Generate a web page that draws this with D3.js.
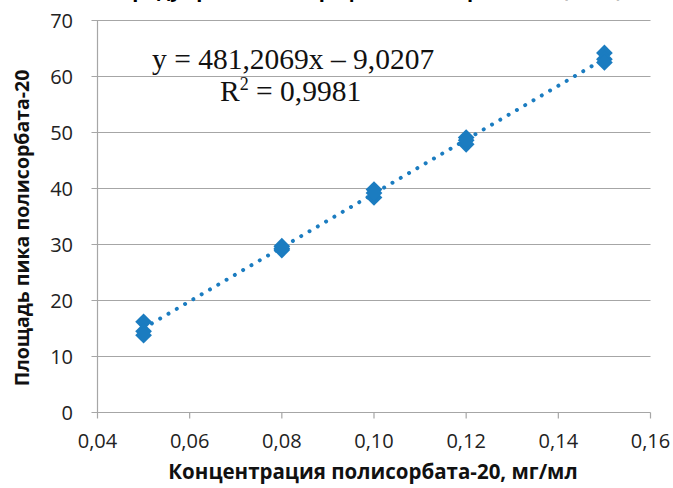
<!DOCTYPE html>
<html>
<head>
<meta charset="utf-8">
<script src="https://d3js.org/d3.v7.min.js"></script>
<style>
  body { margin: 0; background: #fff; }
  svg { display: block; }
</style>
</head>
<body>
<div id="chart"></div>
<script>
// concentration, mg/ml
var conc = [0.05, 0.05, 0.05, 0.08, 0.08, 0.08, 0.10, 0.10, 0.10, 0.12, 0.12, 0.12, 0.15, 0.15, 0.15];
// peak area
var area = [16.2, 14.5, 13.8, 29.7, 29.0, 29.3, 39.8, 38.4, 39.2, 49.1, 47.9, 48.6, 64.2, 63.1, 62.5];

var xTicks = [0.04, 0.06, 0.08, 0.10, 0.12, 0.14, 0.16];
var yTicks = [0, 10, 20, 30, 40, 50, 60, 70];

var slope = 481.2069, intercept = -9.0207;
var eqText = "y = 481,2069x – 9,0207";
var r2Text = "0,9981";
var title = "Градуировочный график полисорбата-20 (n=15)";
var xTitle = "Концентрация полисорбата-20, мг/мл";
var yTitle = "Площадь пика полисорбата-20";

var width = 673, height = 488;
var blue = "#1b7cc0", grid = "#a6a6a6";
var fmt = function (d) { return d3.format(".2f")(d).replace(".", ","); };

var x = d3.scaleLinear().domain([0.04, 0.16]).range([97.5, 650.5]);
var y = d3.scaleLinear().domain([0, 70]).range([412.5, 20.5]);

var svg = d3.select("#chart").append("svg")
    .attr("width", width)
    .attr("height", height);

// title, cut off by the top edge as in the source picture
svg.append("text")
    .attr("x", 372).attr("y", -3.5)
    .attr("text-anchor", "middle")
    .style("font-family", "Open Sans")
    .style("font-weight", "bold")
    .style("font-size", "20px")
    .text(title);

// horizontal grid
svg.append("g")
    .selectAll("line")
    .data(yTicks)
    .enter().append("line")
    .attr("x1", x(0.04) - 6).attr("x2", x(0.16))
    .attr("y1", function (d) { return y(d); })
    .attr("y2", function (d) { return y(d); })
    .attr("stroke", grid).attr("stroke-width", 1.2);

// y axis line
svg.append("line")
    .attr("x1", x(0.04)).attr("x2", x(0.04))
    .attr("y1", y(70)).attr("y2", y(0))
    .attr("stroke", grid).attr("stroke-width", 1.2);

// x ticks
svg.append("g")
    .selectAll("line")
    .data(xTicks)
    .enter().append("line")
    .attr("x1", function (d) { return x(d); })
    .attr("x2", function (d) { return x(d); })
    .attr("y1", y(0)).attr("y2", y(0) + 6)
    .attr("stroke", grid).attr("stroke-width", 1.2);

// tick labels
svg.append("g")
    .selectAll("text")
    .data(yTicks)
    .enter().append("text")
    .attr("x", 73)
    .attr("y", function (d) { return y(d) + 7; })
    .attr("text-anchor", "end")
    .style("font-family", "Open Sans")
    .style("font-size", "20px")
    .style("fill", "#222")
    .text(function (d) { return d; });

svg.append("g")
    .selectAll("text")
    .data(xTicks)
    .enter().append("text")
    .attr("x", function (d) { return x(d); })
    .attr("y", 448)
    .attr("text-anchor", "middle")
    .style("font-family", "Open Sans")
    .style("font-size", "20px")
    .style("fill", "#222")
    .text(fmt);

// axis titles
svg.append("text")
    .attr("x", 373).attr("y", 479)
    .attr("text-anchor", "middle")
    .style("font-family", "Open Sans")
    .style("font-weight", "bold")
    .style("font-size", "20.5px")
    .style("fill", "#111")
    .text(xTitle);

svg.append("text")
    .attr("transform", "translate(29,228) rotate(-90)")
    .attr("text-anchor", "middle")
    .style("font-family", "Open Sans")
    .style("font-weight", "bold")
    .style("font-size", "19.5px")
    .style("fill", "#111")
    .text(yTitle);

// trend line (dotted)
var x0 = d3.min(conc), x1 = d3.max(conc);
svg.append("line")
    .attr("x1", x(x0)).attr("y1", y(slope * x0 + intercept))
    .attr("x2", x(x1)).attr("y2", y(slope * x1 + intercept))
    .attr("stroke", blue)
    .attr("stroke-width", 4)
    .attr("stroke-linecap", "round")
    .attr("stroke-dasharray", "0.01 9.6");

// points (diamonds)
var diamond = d3.symbol().type(d3.symbolSquare).size(140);
svg.append("g")
    .selectAll("path")
    .data(conc)
    .enter().append("path")
    .attr("d", diamond)
    .attr("transform", function (d, i) {
        return "translate(" + x(d) + "," + y(area[i]) + ") rotate(45)";
    })
    .attr("fill", blue);

// equation
svg.append("text")
    .attr("x", 152).attr("y", 69)
    .style("font-family", "Liberation Serif")
    .style("font-size", "29.5px")
    .style("fill", "#111")
    .text(eqText);

var r2 = svg.append("text")
    .attr("x", 220).attr("y", 101)
    .style("font-family", "Liberation Serif")
    .style("font-size", "29.5px")
    .style("fill", "#111");
r2.append("tspan").text("R");
r2.append("tspan").attr("dy", -11).style("font-size", "18px").text("2");
r2.append("tspan").attr("dy", 11).text(" = " + r2Text);
</script>
</body>
</html>
